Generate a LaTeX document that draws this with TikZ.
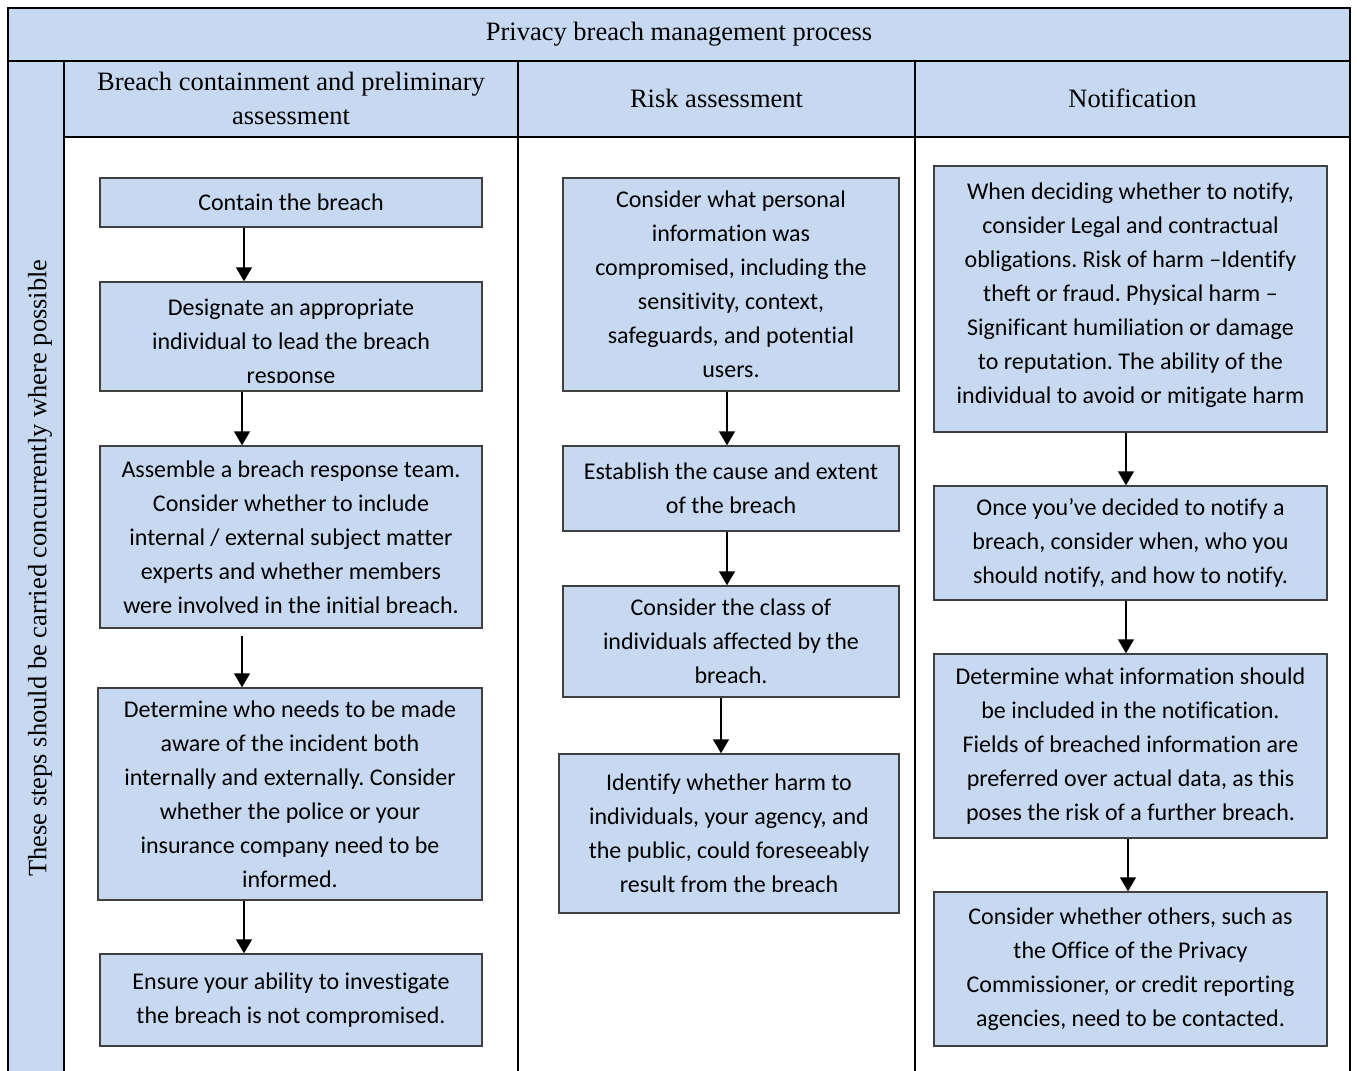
\documentclass[tikz,border=0pt]{standalone}
\usepackage{fontspec}
\setmainfont{Liberation Serif}
\newfontfamily\boxfont[Ligatures=NoCommon]{Carlito}
\usetikzlibrary{arrows.meta}
\definecolor{hdrblue}{HTML}{C6D9F1}
\definecolor{boxedge}{HTML}{404040}
\frenchspacing
\begin{document}
\begin{tikzpicture}[x=0.5pt,y=-0.5pt,
  stepbox/.style={draw=boxedge, line width=0.7pt, fill=hdrblue, inner sep=0pt, align=center,
    font=\boxfont\fontsize{12}{17}\selectfont, text=black},
  boxtext/.style={inner sep=0pt, align=center, font=\boxfont\fontsize{12}{17}\selectfont, text=black},
  hdr/.style={align=center, font=\fontsize{13.25}{17}\selectfont, text=black},
  gridline/.style={line width=1.1pt, black},
  arr/.style={-{Triangle[width=8pt,length=7pt]}, line width=0.75pt, black}]

\useasboundingbox (0,0) rectangle (1357,1071);
\fill[white] (0,0) rectangle (1357,1071);
% table fills
\fill[hdrblue] (8,8) rectangle (1350,137);
\fill[hdrblue] (8,137) rectangle (64,1071);
% table lines
\draw[gridline] (8,1071) -- (8,8) -- (1350,8) -- (1350,1071);
\draw[gridline] (8,61) -- (1350,61);
\draw[gridline] (64,137) -- (1350,137);
\draw[gridline] (64,61) -- (64,1071);
\draw[gridline] (518,61) -- (518,1071);
\draw[gridline] (915,61) -- (915,1071);

% headers
\node[hdr] (title) at (679,34) {Privacy breach management process};
\node[hdr] (h1) at (291,98) {Breach containment and preliminary\\assessment};
\node[hdr] (h2) at (716.5,98) {Risk assessment};
\node[hdr] (h3) at (1132.5,98) {Notification};
\node[hdr, rotate=90] (side) at (40,568) {These steps should be carried concurrently where possible};

% column 1
\node[stepbox, minimum width=191pt, minimum height=24.5pt] (B1) at (291,202.5) {Contain the breach};
\node[stepbox, minimum width=191pt, minimum height=54.5pt] (B2) at (291,336.5) {};
\begin{scope}
  \clip (100,282) rectangle (482,382);
  \node[boxtext] (B2t) at (291,343) {Designate an appropriate\\individual to lead the breach\\response};
\end{scope}
\node[stepbox, minimum width=191pt, minimum height=91pt] (B3) at (291,537) {Assemble a breach response team.\\Consider whether to include\\internal / external subject matter\\experts and whether members\\were involved in the initial breach.};
\node[stepbox, minimum width=192pt, minimum height=106pt] (B4) at (290,794) {Determine who needs to be made\\aware of the incident both\\internally and externally. Consider\\whether the police or your\\insurance company need to be\\informed.};
\node[stepbox, minimum width=191pt, minimum height=46pt] (B5) at (291,1000) {Ensure your ability to investigate\\the breach is not compromised.};

% column 2
\node[stepbox, minimum width=168pt, minimum height=106.5pt] (C1) at (731,284.5) {Consider what personal\\information was\\compromised, including the\\sensitivity, context,\\safeguards, and potential\\users.};
\node[stepbox, minimum width=168pt, minimum height=42.5pt] (C2) at (731,488.5) {Establish the cause and extent\\of the breach};
\node[stepbox, minimum width=168pt, minimum height=55.5pt] (C3) at (731,641.5) {Consider the class of\\individuals affected by the\\breach.};
\node[stepbox, minimum width=170pt, minimum height=79.5pt] (C4) at (729,833.5) {Identify whether harm to\\individuals, your agency, and\\the public, could foreseeably\\result from the breach};

% column 3
\node[stepbox, minimum width=196.5pt, minimum height=133pt] (D1) at (1130.5,299) {};
\node[boxtext] (D1t) at (1130.5,295) {When deciding whether to notify,\\consider Legal and contractual\\obligations. Risk of harm –Identify\\theft or fraud. Physical harm –\\Significant humiliation or damage\\to reputation. The ability of the\\individual to avoid or mitigate harm};
\node[stepbox, minimum width=196.5pt, minimum height=57pt] (D2) at (1130.5,543) {Once you’ve decided to notify a\\breach, consider when, who you\\should notify, and how to notify.};
\node[stepbox, minimum width=196.5pt, minimum height=92pt] (D3) at (1130.5,746) {Determine what information should\\be included in the notification.\\Fields of breached information are\\preferred over actual data, as this\\poses the risk of a further breach.};
\node[stepbox, minimum width=196.5pt, minimum height=77pt] (D4) at (1130.5,969) {Consider whether others, such as\\the Office of the Privacy\\Commissioner, or credit reporting\\agencies, need to be contacted.};

% arrow x positions
\coordinate (xa) at (244,0);
\coordinate (xb) at (242,0);
\coordinate (xc) at (727,0);
\coordinate (xd) at (721,0);
\coordinate (xe) at (1126,0);
\coordinate (xf) at (1128,0);

\draw[arr] (B1.south -| xa) -- (B2.north -| xa);
\draw[arr] (B2.south -| xb) -- (B3.north -| xb);
\draw[arr, shorten <=3.5pt] (B3.south -| xb) -- (B4.north -| xb);
\draw[arr] (B4.south -| xa) -- (B5.north -| xa);
\draw[arr] (C1.south -| xc) -- (C2.north -| xc);
\draw[arr] (C2.south -| xc) -- (C3.north -| xc);
\draw[arr] (C3.south -| xd) -- (C4.north -| xd);
\draw[arr] (D1.south -| xe) -- (D2.north -| xe);
\draw[arr] (D2.south -| xe) -- (D3.north -| xe);
\draw[arr] (D3.south -| xf) -- (D4.north -| xf);
\end{tikzpicture}
\end{document}
